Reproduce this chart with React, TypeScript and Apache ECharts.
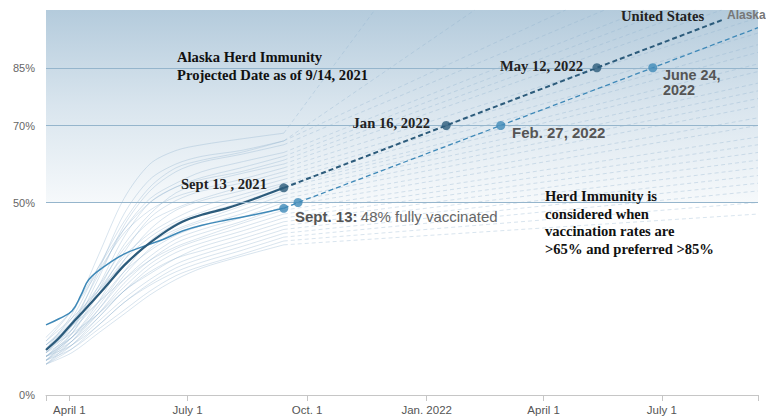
import React, { useEffect, useRef } from "react";
import * as echarts from "echarts";

// x values are days since 2021-03-14 (axis start); axis ends 2022-09-13 (day 548)
const X_MIN = 0;
const X_MAX = 548;
const xTickDays = [0, 18, 109, 201, 293, 383, 474, 548];
const xLabelDays = [18, 109, 201, 293, 383, 474];
const xLabelTexts = ["April 1", "July 1", "Oct. 1", "Jan. 2022", "April 1", "July 1"];
const yLabelValues = [0, 50, 70, 85];
const refLines = [50, 70, 85];

// United States – actual (solid)
const usDays = [0, 10, 20, 30, 45, 60, 75, 90, 105, 120, 140, 160, 175, 183];
const usValues = [11.7, 14.8, 18.6, 22.2, 27.8, 33.6, 38.2, 42.0, 45.0, 46.8, 48.6, 50.9, 52.8, 53.8];
// United States – projection (dashed)
const usProjDays = [183, 308, 424, 522];
const usProjValues = [53.8, 70, 85, 97.6];

// Alaska – actual (solid)
const akDays = [0, 10, 20, 27, 33, 45, 60, 75, 90, 105, 120, 140, 160, 175, 183];
const akValues = [18.2, 19.8, 21.8, 26.0, 30.0, 33.4, 36.6, 38.6, 40.4, 42.6, 44.1, 45.5, 46.8, 47.9, 48.5];
// Alaska – projection (dashed)
const akProjDays = [183, 194, 350, 467, 548];
const akProjValues = [48.5, 50, 70, 85, 95.4];

// Other states (faint)
const stateDays = [0, 20, 40, 60, 80, 100, 120, 150, 183];
const stateValues = [
  [12, 21, 36, 51, 60, 63.5, 65, 66.5, 68],
  [11, 18, 32, 47, 56, 60, 62, 63.5, 66],
  [13, 20, 33, 45, 54, 59, 61, 63, 66],
  [10, 17, 30, 44, 53, 58, 60.5, 62.5, 65],
  [12, 19, 31, 43, 51, 55, 58, 60.5, 63],
  [14, 22, 33, 43, 50, 54, 56.5, 59, 62],
  [11, 17, 28, 41, 50, 54, 56, 58, 61],
  [9, 16, 27, 39, 47, 52.5, 55, 57.5, 60],
  [15, 22, 32, 42, 48, 51.5, 53.5, 56, 59],
  [10, 16, 26, 37, 46, 50.5, 53, 55, 58],
  [12, 19, 28, 38, 45, 48.5, 51, 54, 57],
  [9, 15, 24, 35, 43, 48, 50.5, 53, 56],
  [13, 19, 27, 36, 42, 46, 49, 52, 55],
  [11, 18, 26, 35, 41, 45, 47.5, 51, 54.5],
  [10, 15, 23, 32, 40, 44.5, 47, 50, 54],
  [14, 20, 27, 34, 39.5, 43, 45.5, 49, 53],
  [8, 14, 22, 31, 38, 42.5, 45, 48, 52],
  [12, 17, 24, 32, 37.5, 41.5, 44, 47, 51],
  [10, 15, 22, 30, 36, 40.5, 43, 46, 50],
  [9, 14, 21, 29, 35, 39.5, 42, 45, 49],
  [13, 18, 24, 30, 35, 38.5, 41, 44.5, 48],
  [11, 15, 21, 28, 34, 38, 40.5, 43.5, 47],
  [8, 13, 20, 27, 33, 37, 39.5, 42.5, 46],
  [10, 14, 20, 27, 31.5, 35.5, 38.5, 41.5, 45],
  [12, 16, 21, 27, 32, 35.5, 37.5, 40.5, 44],
  [9, 13, 19, 25, 30, 34, 36.5, 39.5, 43],
  [8, 12, 18, 24, 29, 33, 35.5, 38.5, 42],
  [10, 13, 18, 24, 28.5, 32, 34.5, 37.5, 41],
  [9, 12, 17, 22, 27, 31, 33.5, 36.5, 40],
  [8, 11, 16, 21, 26, 30, 33, 36, 39],
];
const stateProjEndDays = [253, 330, 400, 430, 460, 480, 500, 520, 548, 548, 548, 548, 548, 548, 548, 548, 548, 548, 548, 548, 548, 548, 548, 548, 548, 548, 548, 548, 548, 548];
const stateProjEndValues = [100, 100, 100, 100, 100, 100, 100, 100, 98, 94, 91, 89, 86, 84, 81, 79, 77, 75, 72, 70, 67, 65, 63, 61, 59, 57, 55, 53, 50, 47];

// Milestone points
const usMarkDays = [183, 308, 424];
const usMarkValues = [53.8, 70, 85];
const akMarkDays = [183, 194, 350, 467];
const akMarkValues = [48.5, 50, 70, 85];

const SANS = "'Liberation Sans', Arial, Helvetica, sans-serif";
const SERIF = "'Liberation Serif', 'Times New Roman', serif";
const US_COLOR = "#2c5b7b";
const AK_COLOR = "#3f89b8";
const FAINT = "rgba(140,176,204,0.34)";

const zip = (xs: number[], ys: number[]) => xs.map((x, i) => [x, ys[i]]);

export default function App() {
  const ref = useRef<HTMLDivElement>(null);
  useEffect(() => {
    if (!ref.current) return;
    const chart = echarts.init(ref.current, undefined, { renderer: "svg" });

    const series: any[] = [];
    series.push({
      type: "line",
      data: [],
      silent: true,
      z: 0,
      markArea: {
        silent: true,
        itemStyle: {
          color: new echarts.graphic.LinearGradient(0, 0, 0, 1, [
            { offset: 0, color: "#b4cbdc" },
            { offset: 0.5, color: "#d9e5ee" },
            { offset: 1, color: "#f6f9fb" },
          ]),
        },
        data: [[{ yAxis: 50 }, { yAxis: 100 }]],
      },
      markLine: {
        silent: true,
        symbol: "none",
        label: { show: false },
        lineStyle: { color: "#95b5cc", type: "solid", width: 1 },
        data: refLines.map((v) => ({ yAxis: v })),
      },
    });

    stateValues.forEach((vals, i) => {
      series.push({
        type: "line",
        data: zip(stateDays, vals),
        smooth: 0.3,
        showSymbol: false,
        silent: true,
        z: 1,
        lineStyle: { color: FAINT, width: 1 },
      });
      series.push({
        type: "line",
        data: [
          [stateDays[stateDays.length - 1], vals[vals.length - 1]],
          [stateProjEndDays[i], stateProjEndValues[i]],
        ],
        showSymbol: false,
        silent: true,
        z: 1,
        lineStyle: { color: FAINT, width: 1, type: [4, 3] },
      });
    });

    series.push({
      type: "line",
      data: zip(akDays, akValues),
      smooth: 0.4,
      showSymbol: false,
      z: 3,
      lineStyle: { color: AK_COLOR, width: 1.5 },
    });
    series.push({
      type: "line",
      data: zip(akProjDays, akProjValues),
      showSymbol: false,
      z: 3,
      lineStyle: { color: AK_COLOR, width: 1.3, type: [5, 3] },
    });
    series.push({
      type: "line",
      data: zip(usDays, usValues),
      smooth: 0.3,
      showSymbol: false,
      z: 4,
      lineStyle: { color: US_COLOR, width: 2.2 },
    });
    series.push({
      type: "line",
      data: zip(usProjDays, usProjValues),
      showSymbol: false,
      z: 4,
      lineStyle: { color: US_COLOR, width: 2, type: [5, 3] },
    });
    series.push({
      type: "scatter",
      data: zip(akMarkDays, akMarkValues),
      symbolSize: 9,
      z: 5,
      itemStyle: { color: AK_COLOR },
    });
    series.push({
      type: "scatter",
      data: zip(usMarkDays, usMarkValues),
      symbolSize: 9,
      z: 6,
      itemStyle: { color: US_COLOR },
    });

    const serifBold = (size: number) => `bold ${size}px ${SERIF}`;
    const sansBold = (size: number) => `bold ${size}px ${SANS}`;
    const txt = (text: string, x: number, y: number, font: string, fill: string, align = "left") => ({
      type: "text",
      x,
      y,
      z: 100,
      silent: true,
      style: { text, font, fill, align, verticalAlign: "middle" },
    });

    const graphic: any[] = [
      txt("Alaska Herd Immunity", 177, 57, serifBold(14.6), "#111"),
      txt("Projected Date as of 9/14, 2021", 177, 75, serifBold(14.6), "#111"),
      txt("United States", 621, 16, serifBold(14.6), "#222"),
      txt("Alaska", 727, 15, sansBold(12), "#777"),
      txt("May 12, 2022", 583, 66, serifBold(14.6), "#222", "right"),
      txt("Jan 16, 2022", 430, 123, serifBold(14.6), "#222", "right"),
      txt("Sept 13 , 2021", 181, 184, serifBold(14.6), "#222"),
      txt("June 24,", 663, 75, sansBold(14.4), "#555"),
      txt("2022", 663, 90, sansBold(14.4), "#555"),
      txt("Feb. 27, 2022", 512, 132, sansBold(15), "#555"),
      {
        type: "text",
        x: 295,
        y: 216,
        z: 100,
        silent: true,
        style: {
          text: "{b|Sept. 13:} {r|48% fully vaccinated}",
          verticalAlign: "middle",
          rich: {
            b: { font: sansBold(15), fill: "#555" },
            r: { font: `${15}px ${SANS}`, fill: "#666" },
          },
        },
      },
      txt("Herd Immunity is", 545, 196, serifBold(14.6), "#111"),
      txt("considered when", 545, 213.5, serifBold(14.6), "#111"),
      txt("vaccination rates are", 545, 231, serifBold(14.6), "#111"),
      txt(">65% and preferred >85%", 545, 248.5, serifBold(14.6), "#111"),
    ];

    chart.setOption({
      animation: false,
      grid: { left: 46, right: 8, top: 10, bottom: 22 },
      xAxis: {
        type: "value",
        min: X_MIN,
        max: X_MAX,
        axisLine: { show: true, lineStyle: { color: "#c6c6c6" } },
        axisTick: { show: true, customValues: xTickDays, length: 6, lineStyle: { color: "#c6c6c6" } },
        axisLabel: {
          customValues: xLabelDays,
          formatter: (v: number) => xLabelTexts[xLabelDays.indexOf(v)] ?? "",
          color: "#555",
          fontSize: 11.5,
          fontFamily: SANS,
          margin: 9,
        },
        splitLine: { show: false },
      },
      yAxis: {
        type: "value",
        min: 0,
        max: 100,
        axisLine: { show: false },
        axisTick: { show: false },
        splitLine: { show: false },
        axisLabel: {
          customValues: yLabelValues,
          formatter: (v: number) => `${v}%`,
          color: "#666",
          fontSize: 11,
          fontFamily: SANS,
          margin: 11,
        },
      },
      series,
      graphic,
    });

    return () => chart.dispose();
  }, []);

  return (
    <div
      ref={ref}
      style={{ position: "fixed", left: 0, top: 0, width: 766, height: 417, background: "#fff" }}
    />
  );
}
